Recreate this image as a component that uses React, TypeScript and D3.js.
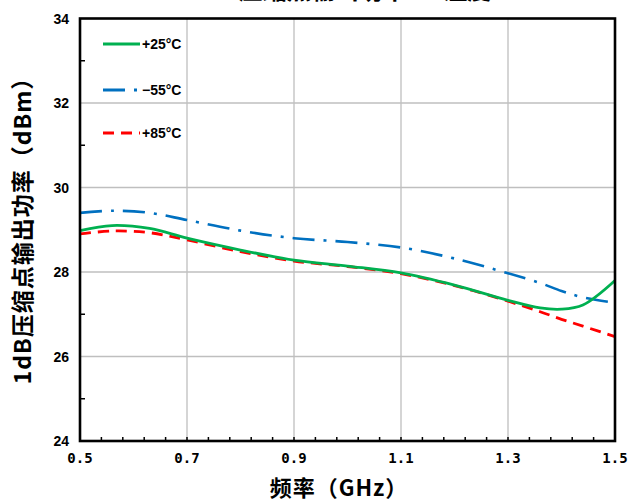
import React, { useEffect, useRef } from "react";
import * as d3 from "d3";

// frequency points (GHz)
const freqs = [0.5, 0.56, 0.63, 0.7, 0.8, 0.9, 1.0, 1.1, 1.2, 1.3, 1.36, 1.4, 1.44, 1.5];
// P1dB output power (dBm)
const p25 = [28.98, 29.1, 29.03, 28.8, 28.52, 28.28, 28.14, 27.98, 27.69, 27.33, 27.15, 27.12, 27.22, 27.8];
const pM55 = [29.4, 29.45, 29.4, 29.23, 28.98, 28.8, 28.71, 28.58, 28.32, 27.97, 27.74, 27.55, 27.4, 27.27];
const p85 = [28.9, 28.97, 28.93, 28.76, 28.48, 28.26, 28.13, 27.96, 27.68, 27.31, 27.06, 26.88, 26.72, 26.47];

const xTicks = [0.5, 0.7, 0.9, 1.1, 1.3, 1.5];
const yTicks = [24, 26, 28, 30, 32, 34];
const seriesNames = ["+25°C", "−55°C", "+85°C"];

const App = () => {
  const svgRef = useRef<SVGSVGElement>(null);

  useEffect(() => {
    const svg = d3.select(svgRef.current);
    svg.selectAll("*").remove();

    const width = 628;
    const height = 502;
    const margin = { top: 18.5, right: 13, bottom: 61, left: 80 };

    const x = d3.scaleLinear().domain([0.5, 1.5]).range([margin.left, width - margin.right]);
    const y = d3.scaleLinear().domain([24, 34]).range([height - margin.bottom, margin.top]);

    // title, cut off by the top edge as in the source image
    svg.append("text")
      .attr("x", 365).attr("y", -1)
      .attr("text-anchor", "middle")
      .style("font-family", "'Noto Sans CJK SC', sans-serif")
      .style("font-weight", "bold")
      .style("font-size", "24px")
      .text("压缩点输出功率 vs 温度");

    // grid
    const grid = svg.append("g").attr("stroke", "#bfbfbf").attr("stroke-width", 1.3);
    xTicks.slice(1, -1).forEach(t => {
      grid.append("line").attr("x1", x(t)).attr("x2", x(t)).attr("y1", y(34)).attr("y2", y(24));
    });
    yTicks.slice(1, -1).forEach(t => {
      grid.append("line").attr("x1", x(0.5)).attr("x2", x(1.5)).attr("y1", y(t)).attr("y2", y(t));
    });

    // minor ticks
    const ticks = svg.append("g").attr("stroke", "#000").attr("stroke-width", 1.5);
    d3.range(0.54, 1.5, 0.04).forEach(t => {
      ticks.append("line").attr("x1", x(t)).attr("x2", x(t)).attr("y1", y(24)).attr("y2", y(24) - 4);
    });
    d3.range(25, 34, 2).forEach(t => {
      ticks.append("line").attr("x1", x(0.5)).attr("x2", x(0.5) + 5).attr("y1", y(t)).attr("y2", y(t));
    });

    // lines
    const line = (vals: number[]) =>
      d3.line<number>()
        .x((_, i) => x(freqs[i]))
        .y(d => y(d))
        .curve(d3.curveCatmullRom.alpha(0.5))(vals);

    svg.append("path").attr("d", line(pM55)).attr("fill", "none")
      .attr("stroke", "#0070c0").attr("stroke-width", 2.6)
      .attr("stroke-dasharray", "22 9 3 9");
    svg.append("path").attr("d", line(p85)).attr("fill", "none")
      .attr("stroke", "#ff0000").attr("stroke-width", 2.8)
      .attr("stroke-dasharray", "11 7");
    svg.append("path").attr("d", line(p25)).attr("fill", "none")
      .attr("stroke", "#00b050").attr("stroke-width", 2.8);

    // frame
    svg.append("rect")
      .attr("x", x(0.5)).attr("y", y(34))
      .attr("width", x(1.5) - x(0.5)).attr("height", y(24) - y(34))
      .attr("fill", "none").attr("stroke", "#000").attr("stroke-width", 2.6);

    // tick labels
    svg.append("g").selectAll("text").data(yTicks).enter().append("text")
      .attr("x", 69).attr("y", d => y(d) + 5)
      .attr("text-anchor", "end")
      .style("font-family", "'Liberation Sans', Arial, sans-serif")
      .style("font-weight", "bold").style("font-size", "14px")
      .text(d => d);
    svg.append("g").selectAll("text").data(xTicks).enter().append("text")
      .attr("x", d => x(d)).attr("y", 463)
      .attr("text-anchor", "middle")
      .style("font-family", "'DejaVu Sans Mono', monospace")
      .style("font-weight", "bold").style("font-size", "14px")
      .text(d => d.toFixed(1));

    // axis titles
    svg.append("text")
      .attr("transform", `translate(31,225) rotate(-90)`)
      .attr("text-anchor", "middle")
      .style("font-family", "'Noto Sans CJK SC', sans-serif")
      .style("font-weight", "bold").style("font-size", "23px")
      .style("letter-spacing", "1px")
      .text("1dB压缩点输出功率（dBm）");
    svg.append("text")
      .attr("x", 339).attr("y", 496)
      .attr("text-anchor", "middle")
      .style("font-family", "'Noto Sans CJK SC', sans-serif")
      .style("font-weight", "bold").style("font-size", "22px")
      .style("letter-spacing", "1px")
      .text("频率（GHz）");

    // legend
    const legend = svg.append("g");
    const styles = [
      { color: "#00b050", dash: null, y: 44 },
      { color: "#0070c0", dash: "22 9 3 9", y: 90 },
      { color: "#ff0000", dash: "11 7", y: 133 },
    ];
    styles.forEach((s, i) => {
      legend.append("line")
        .attr("x1", 103).attr("x2", 140).attr("y1", s.y).attr("y2", s.y)
        .attr("stroke", s.color).attr("stroke-width", 2.8)
        .attr("stroke-dasharray", s.dash);
      legend.append("text")
        .attr("x", 142).attr("y", s.y + 5)
        .style("font-family", "'Liberation Sans', Arial, sans-serif")
        .style("font-weight", "bold").style("font-size", "14px")
        .text(seriesNames[i]);
    });
  }, []);

  return (
    <svg
      ref={svgRef}
      width={628}
      height={502}
      style={{ position: "absolute", left: 0, top: 0, background: "#fff" }}
    />
  );
};

export default App;
